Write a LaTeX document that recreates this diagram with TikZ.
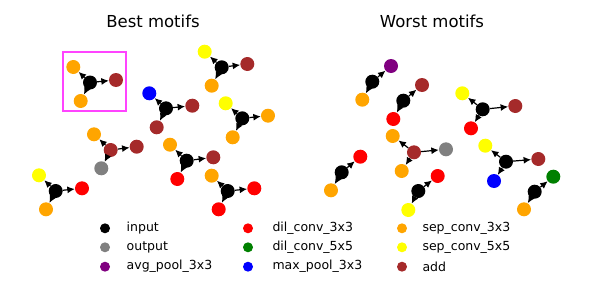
\documentclass[tikz,border=0pt]{standalone}
\usepackage{fontspec}
\setmainfont{DejaVu Sans}
\usetikzlibrary{arrows.meta}
\definecolor{cgrey}{HTML}{808080}
\definecolor{cpurple}{HTML}{800080}
\definecolor{cred}{HTML}{FF0000}
\definecolor{cgreen}{HTML}{008000}
\definecolor{cblue}{HTML}{0000FF}
\definecolor{corange}{HTML}{FFA500}
\definecolor{cyellow}{HTML}{FFFF00}
\definecolor{cbrown}{HTML}{A52A2A}
\definecolor{cmag}{HTML}{FF44FF}
\tikzset{
  nd/.style={circle, minimum size=14pt, inner sep=0pt, fill=#1},
  lg/.style={circle, minimum size=10pt, inner sep=0pt, fill=#1},
  arr/.style={-{Latex[length=7.5pt,width=7pt]}, line width=1.2pt, black},
  lbl/.style={anchor=west, inner sep=0pt, font=\fontsize{12.5}{14}\selectfont},
  ttl/.style={inner sep=0pt, font=\fontsize{16.5}{18}\selectfont},
  hl/.style={draw=cmag, line width=2pt}
}
\begin{document}
\begin{tikzpicture}[x=1pt,y=-1pt]
\useasboundingbox (0,0) rectangle (600,300);
\node[ttl] (t1) at (153,21) {Best motifs};
\node[ttl] (t2) at (432,21) {Worst motifs};
\draw[hl] (62.5,52) rectangle (125.5,110.5);
% ---- Best motifs ----
% motif 1
\node[nd=black] (c1) at (90,82.5) {};
\node[nd=corange] (a1) at (73.3,67) {};
\node[nd=cbrown] (b1) at (116,80) {};
\node[nd=corange] (d1) at (80.7,101) {};
% motif 2
\node[nd=black] (c2) at (221.7,67.3) {};
\node[nd=cyellow] (a2) at (204.7,51.7) {};
\node[nd=cbrown] (b2) at (247.3,64) {};
\node[nd=corange] (d2) at (211.7,85.7) {};
% motif 3
\node[nd=black] (c3) at (166,108.3) {};
\node[nd=cblue] (a3) at (149.3,93.3) {};
\node[nd=cbrown] (b3) at (192.3,105.7) {};
\node[nd=cbrown] (d3) at (156.7,127.3) {};
% motif 4
\node[nd=black] (c4) at (242.3,118.3) {};
\node[nd=cyellow] (a4) at (225.7,103.3) {};
\node[nd=corange] (b4) at (268,115.7) {};
\node[nd=corange] (d4) at (232.7,137.3) {};
% motif 5
\node[nd=cbrown] (c5) at (110.7,150) {};
\node[nd=corange] (a5) at (94,134.3) {};
\node[nd=cbrown] (b5) at (136.7,146.7) {};
\node[nd=cgrey] (d5) at (101.3,168.3) {};
% motif 6
\node[nd=black] (c6) at (55.7,191) {};
\node[nd=cyellow] (a6) at (39,175.3) {};
\node[nd=cred] (b6) at (82,188.3) {};
\node[nd=corange] (d6) at (46,209.3) {};
% motif 7
\node[nd=black] (c7) at (186.7,160.7) {};
\node[nd=corange] (a7) at (170,144.7) {};
\node[nd=cbrown] (b7) at (213.3,157.3) {};
\node[nd=cred] (d7) at (177.3,179) {};
% motif 8
\node[nd=black] (c8) at (227.7,191) {};
\node[nd=corange] (a8) at (211.7,175.7) {};
\node[nd=cred] (b8) at (254.3,188.3) {};
\node[nd=cred] (d8) at (218.7,209.3) {};
\foreach \i in {1,...,8}{
  \draw[arr] (c\i) -- (a\i);
  \draw[arr] (c\i) -- (b\i);
  \draw[arr] (c\i) -- (d\i);
}
% ---- Worst motifs ----
\node[nd=black] (wA) at (372.3,81.7) {};
\node[nd=cpurple] (wA1) at (391,66) {};
\node[nd=corange] (wA2) at (362.3,99.7) {};
\node[nd=black] (wB) at (403.3,100.7) {};
\node[nd=cbrown] (wB1) at (422,85) {};
\node[nd=cred] (wB2) at (393.3,119) {};
\node[nd=cbrown] (wC) at (414,152.3) {};
\node[nd=corange] (wC1) at (392.7,136) {};
\node[nd=cgrey] (wC2) at (446,149.3) {};
\node[nd=corange] (wC3) at (401.7,171) {};
\node[nd=black] (wD) at (341.7,172.3) {};
\node[nd=cred] (wD1) at (360.3,156.7) {};
\node[nd=corange] (wD2) at (331,190.3) {};
\node[nd=black] (wE) at (418.3,191) {};
\node[nd=cred] (wE1) at (437.7,176) {};
\node[nd=cyellow] (wE2) at (408.3,210) {};
\node[nd=black] (wF) at (482.7,109.3) {};
\node[nd=cyellow] (wF1) at (462.3,93.3) {};
\node[nd=cbrown] (wF2) at (515.3,106) {};
\node[nd=cred] (wF3) at (471,128.3) {};
\node[nd=black] (wG) at (506,161.7) {};
\node[nd=cyellow] (wG1) at (485.3,145.7) {};
\node[nd=cbrown] (wG2) at (538.3,159) {};
\node[nd=cblue] (wG3) at (494,181) {};
\node[nd=black] (wH) at (534.7,191.7) {};
\node[nd=cgreen] (wH1) at (553.3,176.7) {};
\node[nd=corange] (wH2) at (524,209.3) {};
\foreach \i in {A,B,D,E,H}{
  \draw[arr] (w\i) -- (w\i1);
  \draw[arr] (w\i) -- (w\i2);
}
\foreach \i in {C,F,G}{
  \draw[arr] (w\i) -- (w\i1);
  \draw[arr] (w\i) -- (w\i2);
  \draw[arr] (w\i) -- (w\i3);
}
% ---- legend ----
\node[lg=black] (l1) at (105,228.3) {};
\node[lbl] (l1t) at (126.5,228.3) {input};
\node[lg=cgrey] (l2) at (105,247.3) {};
\node[lbl] (l2t) at (126.5,247.3) {output};
\node[lg=cpurple] (l3) at (105,266.7) {};
\node[lbl] (l3t) at (126.5,266.7) {avg\_pool\_3x3};
\node[lg=cred] (l4) at (248,228.3) {};
\node[lbl] (l4t) at (272.3,228.3) {dil\_conv\_3x3};
\node[lg=cgreen] (l5) at (248,247.3) {};
\node[lbl] (l5t) at (272.3,247.3) {dil\_conv\_5x5};
\node[lg=cblue] (l6) at (248,266.7) {};
\node[lbl] (l6t) at (272.3,266.7) {max\_pool\_3x3};
\node[lg=corange] (l7) at (402,228.3) {};
\node[lbl] (l7t) at (422.3,228.3) {sep\_conv\_3x3};
\node[lg=cyellow] (l8) at (402,247.3) {};
\node[lbl] (l8t) at (422.3,247.3) {sep\_conv\_5x5};
\node[lg=cbrown] (l9) at (402,266.7) {};
\node[lbl] (l9t) at (422.3,266.7) {add};
\end{tikzpicture}
\end{document}
